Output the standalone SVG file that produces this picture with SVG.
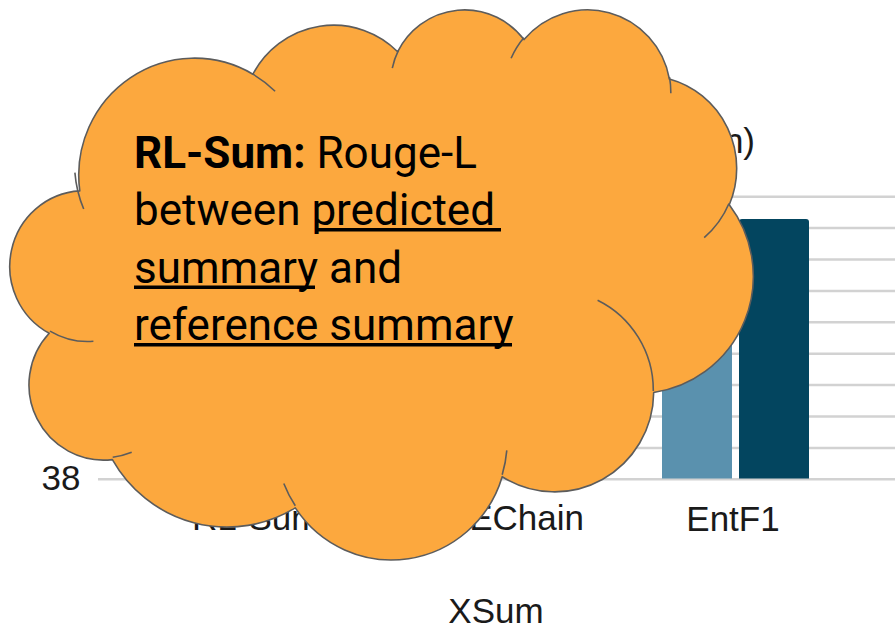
<svg xmlns="http://www.w3.org/2000/svg" width="895" height="629" viewBox="0 0 895 629">
<style>
.grid{stroke:#d2d2d2;stroke-width:2.5}
.ax{font-family:"Liberation Sans",Arial,sans-serif;font-size:35px;fill:#1a1a1a}
.cloud{fill:#FCA83E;stroke:#5c5c5c;stroke-width:1.6;stroke-linejoin:round}
.arc{fill:none;stroke:#5c5c5c;stroke-width:1.6}
.ct{font-family:Roboto,"Noto Sans",sans-serif;font-size:44px;fill:#000}
.ul{fill:#000}
</style>
<rect width="895" height="629" fill="#fff"/>
<g id="chart">
  <g id="gridlines">
    <line class="grid" x1="98" y1="196.7" x2="895" y2="196.7"/>
    <line class="grid" x1="98" y1="228.1" x2="895" y2="228.1"/>
    <line class="grid" x1="98" y1="259.5" x2="895" y2="259.5"/>
    <line class="grid" x1="98" y1="290.9" x2="895" y2="290.9"/>
    <line class="grid" x1="98" y1="322.3" x2="895" y2="322.3"/>
    <line class="grid" x1="98" y1="353.7" x2="895" y2="353.7"/>
    <line class="grid" x1="98" y1="385.1" x2="895" y2="385.1"/>
    <line class="grid" x1="98" y1="416.5" x2="895" y2="416.5"/>
    <line class="grid" x1="98" y1="447.9" x2="895" y2="447.9"/>
    <line class="grid" x1="98" y1="479.3" x2="895" y2="479.3"/>
  </g>
  <g id="bars">
    <rect x="662" y="330" width="70" height="148.5" fill="#5A91AE"/>
    <path d="M739 478.5 V222 Q739 219 742 219 H806 Q809 219 809 222 V478.5 Z" fill="#03455F"/>
  </g>
  <text class="ax" x="755" y="153" text-anchor="end">n)</text>
  <text class="ax" x="41.5" y="490">38</text>
  <text class="ax" x="192" y="530">RL-Sum</text>
  <text class="ax" x="584" y="530" text-anchor="end">EChain</text>
  <text class="ax" x="733" y="531" text-anchor="middle">EntF1</text>
  <text class="ax" x="496" y="623" text-anchor="middle">XSum</text>
</g>
<g id="cloud-callout">
  <path class="cloud" d="M79.8 190.9 A115.7 117 0 0 1 252.9 74.2 A91.4 92.5 0 0 1 397.7 51.7 A74.8 75.7 0 0 1 524 39.6 A83.2 84 0 0 1 669.4 79 A91.4 92.6 0 0 1 729.3 204.8 A116.1 117.4 0 0 1 653.7 392.5 A99.1 100.2 0 0 1 502.2 476.7 A115.7 117.3 0 0 1 295.3 507.9 A132.2 134.2 0 0 1 112.4 459.6 A74.7 75.3 0 0 1 49.2 333.3 A74.4 75.7 0 0 1 79.8 190.9 Z"/>
  <path class="arc" d="M93.4 341.3 A74.4 75.7 0 0 1 50 331.1 M131.7 452.3 A74.7 75.3 0 0 1 112.7 457.2 M295.3 505.7 A115.7 117.3 0 0 1 283.8 483.5 M506.8 450.4 A115.7 117.3 0 0 1 502.2 474.7 M597.6 300.2 A99.1 100.2 0 0 1 653.3 390.9 M729 203.5 A91.4 92.6 0 0 1 704.2 237.6 M669.5 77.1 A83.2 84 0 0 1 670.8 93.2 M511.1 58.3 A83.2 84 0 0 1 523.8 37.8 M392.3 68.1 A74.8 75.7 0 0 1 398.4 50.4 M252.8 74.1 A115.7 117 0 0 1 275.1 91.3 M83.7 209 A115.7 117 0 0 1 74.9 172.6"/>
  <text class="ct" x="134" y="167.5"><tspan font-weight="bold">RL-Sum:</tspan> Rouge-L</text>
  <text class="ct" x="134" y="225">between predicted</text>
  <text class="ct" x="134" y="282.5">summary and</text>
  <text class="ct" x="134" y="340">reference summary</text>
  <rect class="ul" x="315" y="228" width="186" height="3.5"/>
  <rect class="ul" x="134" y="285.5" width="181" height="3.5"/>
  <rect class="ul" x="134" y="343" width="378" height="3.5"/>
</g>
</svg>
